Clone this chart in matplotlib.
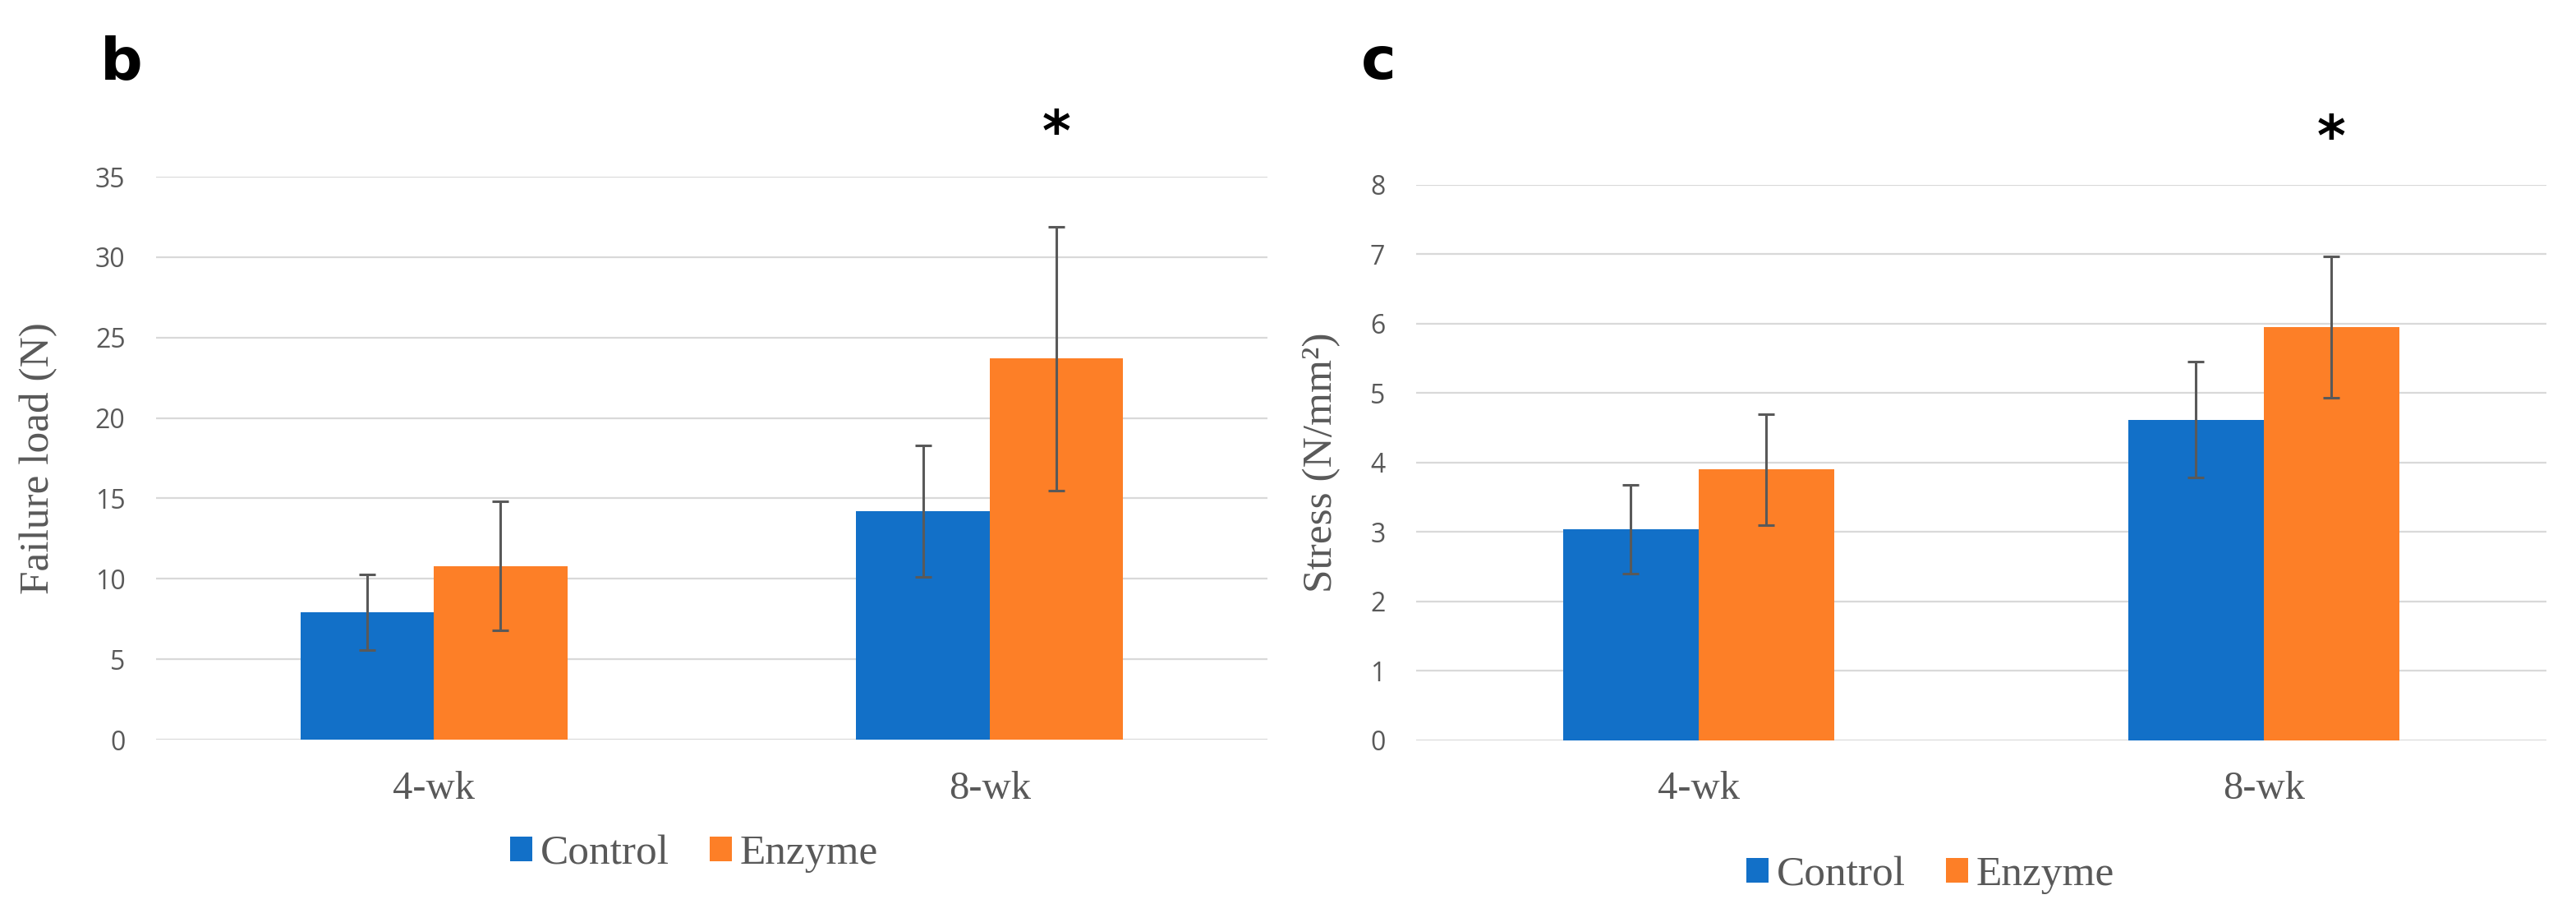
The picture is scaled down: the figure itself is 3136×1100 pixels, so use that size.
import matplotlib
matplotlib.use('Agg')
from matplotlib import pyplot as plt
from matplotlib.patches import Patch
import numpy as np

groups = ['4-wk', '8-wk']
series = ['Control', 'Enzyme']
colors = ['#1270C8', '#FD7F27']

load_mean = {'Control': [7.9, 14.2], 'Enzyme': [10.8, 23.7]}
load_err = {'Control': [2.35, 4.1], 'Enzyme': [4.0, 8.2]}
stress_mean = {'Control': [3.04, 4.62], 'Enzyme': [3.9, 5.95]}
stress_err = {'Control': [0.64, 0.83], 'Enzyme': [0.8, 1.02]}

load_ticks = [0, 5, 10, 15, 20, 25, 30, 35]
stress_ticks = [0, 1, 2, 3, 4, 5, 6, 7, 8]

grey = '#595959'
serif = 'Liberation Serif'
sans = 'Open Sans'


def draw_panel(ax, means, errs, ticks, ylabel, star_y, label_x):
    x = np.arange(len(groups))
    width = 0.24
    for i, name in enumerate(series):
        ax.bar(x + (i - 0.5) * width, means[name], width, color=colors[i], zorder=2)
        ax.errorbar(x + (i - 0.5) * width, means[name], yerr=errs[name], fmt='none',
                    ecolor=grey, elinewidth=2.2, capsize=7, capthick=2.2, zorder=3)
    ax.set_xlim(-0.5, 1.5)
    ax.set_ylim(ticks[0], ticks[-1])
    ax.set_yticks(ticks)
    ax.set_xticks(x, groups)
    ax.yaxis.grid(True, color='#D9D9D9', linewidth=1.6, zorder=0)
    ax.set_axisbelow(True)
    for s in ax.spines.values():
        s.set_visible(False)
    ax.tick_params(axis='both', length=0)
    ax.tick_params(axis='y', pad=27, labelsize=23, labelcolor=grey)
    ax.tick_params(axis='x', pad=27, labelcolor=grey)
    for t in ax.get_yticklabels():
        t.set_fontfamily(sans)
    for t in ax.get_xticklabels():
        t.set_fontfamily(serif)
        t.set_fontsize(35)
    ax.set_ylabel(ylabel, fontfamily=serif, fontsize=37, color=grey)
    ax.yaxis.set_label_coords(label_x, 0.5)
    # significance mark over the 8-wk enzyme bar
    ax.text(1 + 0.5 * width, star_y, '*', ha='center', va='center', fontsize=48,
            fontweight='bold', color='black', clip_on=False)


fig = plt.figure(figsize=(31.36, 11), dpi=100)
ax_b = fig.add_axes([0.0606, 0.1818, 0.4314, 0.6227])
ax_c = fig.add_axes([0.5497, 0.1810, 0.4388, 0.6145])

draw_panel(ax_b, load_mean, load_err, load_ticks, 'Failure load (N)', 37.6, -0.0887)
draw_panel(ax_c, stress_mean, stress_err, stress_ticks, 'Stress (N/mm\u00b2)', 8.65, -0.0669)

handles = [Patch(facecolor=c) for c in colors]
for cx, cy in [(845 / 3136, 1 - 1039 / 1100), (2350 / 3136, 1 - 1065 / 1100)]:
    leg = fig.legend(handles, series, loc='center', bbox_to_anchor=(cx, cy), ncol=2,
                     frameon=False, prop={'family': serif, 'size': 37},
                     handlelength=0.52, handleheight=0.52, handletextpad=0.2,
                     columnspacing=0.95, labelcolor=grey)

fig.text(122 / 3136, 1 - 96 / 1100, 'b', fontsize=52, fontweight='bold', va='baseline')
fig.text(1657 / 3136, 1 - 96 / 1100, 'c', fontsize=52, fontweight='bold', va='baseline')

fig.savefig('out.png', dpi=100)
plt.close(fig)
